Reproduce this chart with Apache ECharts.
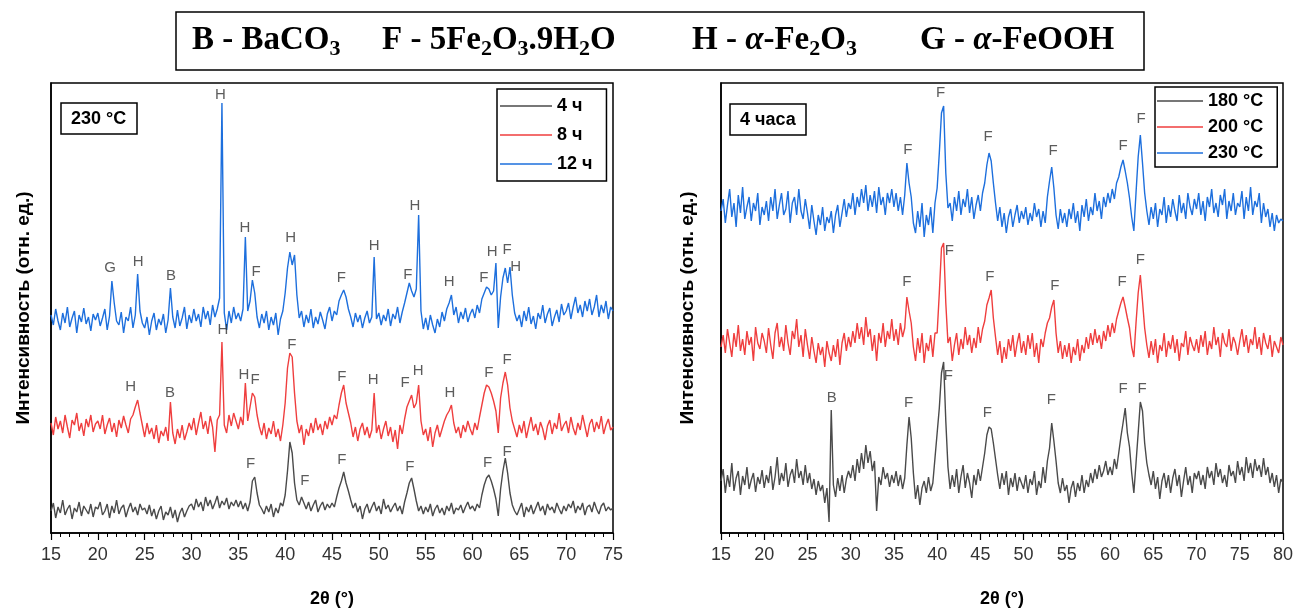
<!DOCTYPE html>
<html>
<head>
<meta charset="utf-8">
<script src="https://cdn.jsdelivr.net/npm/echarts@6/dist/echarts.min.js"></script>
<style>
  html, body { margin: 0; background: #fff; }
  #chart { width: 1293px; height: 609px; }
</style>
</head>
<body>
<div id="chart"></div>
<script>
// рентгенограммы, шаг 0.25° по 2θ, интенсивность в отн. ед. (со сдвигом кривых)
const X0 = 15;
const STEP = 0.25;

// левая панель: 230 °C, 4 / 8 / 12 ч (15..75°)
const left4h = [
  22,30,15,26,20,33,18,24,28,14,25,21,31,17,27,23,19,29,16,26,
  24,31,18,22,29,15,27,20,33,19,25,28,16,24,30,21,26,18,29,23,
  25,19,28,17,24,14,22,27,13,21,18,26,15,23,11,20,25,16,22,27,
  29,23,34,26,31,22,36,27,33,24,30,37,25,32,28,35,24,31,27,33,
  26,32,24,30,22,31,52,56,40,28,24,19,27,21,29,16,25,20,30,27,
  38,62,91,80,50,33,28,36,30,24,31,22,28,33,21,27,31,23,29,25,
  30,26,36,45,52,61,50,42,33,25,30,21,27,14,24,29,20,26,31,22,
  27,19,34,24,28,21,26,30,22,27,19,31,40,50,55,44,32,22,27,19,
  26,21,29,17,24,28,20,25,18,27,22,30,19,25,23,28,20,26,31,24,
  27,22,29,25,38,48,55,58,52,44,34,17,44,62,75,60,40,28,22,18,
  24,30,16,26,21,28,19,25,31,22,27,18,29,23,26,20,30,24,19,27,
  22,29,25,32,20,27,23,30,18,26,28,21,31,24,19,27,30,22,26,23,
  25
];
const left8h = [
  110,98,116,104,112,100,118,106,95,113,108,120,102,110,97,114,106,118,101,109,
  112,104,118,99,108,115,101,110,96,113,105,117,108,100,114,118,126,133,120,108,
  96,110,99,105,94,108,90,102,97,106,92,131,100,89,104,95,108,93,101,110,
  103,115,98,110,121,104,112,99,117,106,81,113,118,191,108,100,118,107,120,112,
  104,116,108,150,112,126,140,136,118,106,98,110,94,105,99,112,96,104,92,108,
  130,165,180,176,140,112,100,108,88,104,97,110,100,115,103,109,98,112,104,116,
  108,118,114,128,140,148,130,120,110,96,106,92,104,110,98,106,95,103,140,100,
  108,94,104,112,97,106,91,103,84,108,99,114,126,132,138,125,130,148,112,98,
  104,92,106,86,100,108,96,104,112,118,122,128,110,100,106,95,108,101,112,104,
  98,110,103,116,128,140,148,146,140,132,122,100,135,150,161,148,125,112,104,96,
  108,100,112,95,106,116,102,109,98,111,104,93,107,113,99,110,104,120,102,108,
  112,100,116,105,98,110,103,118,107,96,109,114,101,111,104,117,99,108,114,103,
  106
];
const left12h = [
  218,208,224,212,203,220,210,226,206,215,222,200,218,211,225,209,216,202,219,213,
  220,207,215,224,203,217,252,230,212,208,221,200,216,212,226,205,218,259,222,210,
  205,216,198,212,220,203,214,208,219,200,213,245,216,205,223,207,215,226,204,218,
  210,224,212,219,206,226,214,222,208,228,216,224,235,430,220,203,222,210,226,214,
  220,212,224,296,222,232,253,240,216,205,219,210,222,203,216,208,220,198,214,222,
  240,265,281,268,278,238,215,222,206,218,210,224,205,216,209,221,213,204,219,226,
  212,222,218,232,238,243,236,224,216,206,220,211,218,205,215,222,210,216,276,214,
  220,208,218,212,224,207,219,214,226,210,221,230,240,250,242,236,244,318,222,204,
  215,203,218,208,200,214,206,221,212,224,230,238,218,226,210,221,214,225,211,219,
  224,215,228,220,234,240,246,244,238,242,270,205,236,255,265,250,266,238,220,212,
  218,206,222,212,226,209,217,204,220,214,228,210,219,225,207,216,223,211,229,218,
  222,230,214,226,236,220,228,216,232,222,234,218,226,238,216,228,220,232,214,226,
  222
];

// правая панель: 4 часа, 180 / 200 / 230 °C (15..80°)
const right180 = [
  52,64,40,58,46,70,42,55,62,38,57,48,66,44,53,60,41,56,49,63,
  45,58,50,67,43,56,76,48,60,52,70,46,58,64,50,74,55,62,48,68,
  50,60,44,54,38,52,42,48,30,45,11,123,48,36,55,42,58,40,54,62,
  55,68,52,74,60,80,64,88,70,82,62,72,22,56,48,66,54,60,46,58,
  50,62,47,58,44,55,88,116,95,60,34,48,28,45,52,40,56,42,50,75,
  100,125,160,171,112,66,44,58,46,64,40,56,68,45,60,50,35,58,48,64,
  52,66,80,98,106,104,90,74,58,44,60,48,62,38,55,46,60,42,56,50,
  44,58,40,54,48,62,38,52,45,66,50,72,85,110,92,72,50,40,55,42,
  48,30,45,52,36,50,42,58,40,53,46,60,50,64,54,68,56,62,72,58,
  66,58,74,64,80,96,110,125,100,86,60,40,70,100,131,122,90,70,58,48,
  62,44,56,34,52,60,45,58,40,55,64,47,58,36,52,66,48,57,40,60,
  54,62,48,58,44,66,55,62,48,70,56,64,50,58,46,68,57,62,50,72,
  58,66,52,76,60,70,55,74,62,68,56,75,58,66,50,60,46,58,40,54,
  50
];
const right200 = [
  186,198,180,204,190,176,200,186,208,182,194,178,202,188,196,172,206,190,184,200,
  192,180,205,188,174,200,210,186,196,182,208,190,178,202,194,214,186,198,176,204,
  188,174,196,182,170,190,178,186,166,192,180,172,188,176,194,168,190,200,182,196,
  186,202,190,210,194,206,188,216,196,204,182,198,172,200,190,210,186,202,194,214,
  192,204,188,210,196,205,236,222,210,186,172,195,180,200,170,190,182,198,176,200,
  200,240,285,290,230,190,196,172,188,200,178,194,184,206,188,198,180,195,185,206,
  190,204,212,228,235,243,215,196,178,192,170,186,174,194,182,198,176,190,200,180,
  192,178,198,184,200,176,190,170,194,186,200,210,215,226,233,200,180,192,174,188,
  176,190,170,186,178,194,172,188,180,196,184,200,188,204,190,198,184,202,192,208,
  196,210,200,214,222,230,236,226,215,205,186,176,210,240,258,232,205,188,175,192,
  178,194,170,188,182,200,176,192,184,198,180,194,172,190,186,202,178,196,188,182,
  194,180,198,186,202,178,192,184,206,188,196,176,200,190,186,204,182,196,190,178,
  192,204,186,198,180,194,188,206,184,196,178,200,190,184,198,176,192,186,180,196,
  188
];
const right230 = [
  322,334,310,328,344,316,330,306,338,320,346,314,326,336,312,330,322,340,308,326,
  318,332,312,336,322,344,314,328,340,318,324,342,310,330,336,318,344,322,314,334,
  320,304,328,312,298,318,308,326,302,316,310,322,300,318,328,306,320,334,316,330,
  324,340,318,336,326,344,330,348,322,338,326,342,320,346,328,336,318,340,330,344,
  326,340,322,336,318,338,370,350,336,310,300,322,306,330,296,318,308,326,300,330,
  345,380,420,427,360,325,330,312,336,322,342,318,334,326,344,320,336,314,328,338,
  322,340,350,368,380,372,350,330,312,326,306,320,300,316,324,306,318,328,310,322,
  314,326,308,320,312,330,316,324,306,322,310,336,352,366,345,318,304,324,310,320,
  306,324,314,330,310,322,302,328,316,334,312,326,318,340,322,332,314,336,326,340,
  330,344,334,350,356,366,373,362,350,335,316,302,340,376,398,370,340,322,308,326,
  314,330,306,324,318,336,310,328,316,334,322,312,338,320,330,314,340,326,318,334,
  324,340,318,332,312,336,326,344,320,330,316,338,328,344,314,332,322,340,318,330,
  326,342,314,336,322,346,318,332,326,340,310,330,316,324,306,320,302,318,310,314,
  312
];

// подписи пиков: [2θ, высота, фаза]
const leftMarks = [
  [21.3,265,'G'],[24.3,271,'H'],[27.8,257,'B'],[33.1,438,'H'],[35.7,305,'H'],[36.9,261,'F'],
  [40.6,295,'H'],[46.0,255,'F'],[49.5,287,'H'],[53.1,258,'F'],[53.85,327,'H'],[57.5,251,'H'],
  [61.2,255,'F'],[62.1,281,'H'],[63.7,283,'F'],[64.6,266,'H'],
  [33.35,203,'H'],[23.5,146,'H'],[27.7,140,'B'],[35.6,158,'H'],[36.8,153,'F'],[40.7,188,'F'],
  [46.05,156,'F'],[49.4,153,'H'],[52.8,150,'F'],[54.2,162,'H'],[57.6,140,'H'],[61.75,160,'F'],
  [63.7,173,'F'],
  [36.3,69,'F'],[42.1,52,'F'],[46.05,73,'F'],[53.3,66,'F'],[61.6,70,'F'],[63.7,81,'F']
];
const rightMarks = [
  [36.6,383,'F'],[40.4,440,'F'],[45.9,396,'F'],[53.4,382,'F'],[61.5,387,'F'],[63.6,414,'F'],
  [36.5,251,'F'],[41.4,282,'F'],[46.1,256,'F'],[53.6,247,'F'],[61.4,251,'F'],[63.5,273,'F'],
  [27.8,135,'B'],[36.7,130,'F'],[41.3,157,'F'],[45.8,120,'F'],[53.2,133,'F'],[61.5,144,'F'],
  [63.7,144,'F']
];

const leftNames = ['4 ч', '8 ч', '12 ч'];
const rightNames = ['180 °C', '200 °C', '230 °C'];
const colors = ['#4a4a4a', '#ef3e3e', '#1d6fdd'];

const FONT = '"Liberation Sans", Arial, sans-serif';
const SERIF = '"Liberation Serif", "Times New Roman", serif';

function toPairs(vals) {
  return vals.map((v, i) => [X0 + i * STEP, v]);
}

function xAxis(gridIndex, max) {
  return {
    type: 'value', gridIndex, min: 15, max, interval: 5,
    axisLine: { lineStyle: { color: '#000', width: 1.5 } },
    axisTick: { inside: false, length: 7, lineStyle: { color: '#000', width: 1.2 } },
    minorTick: { show: true, splitNumber: 5, length: 4, lineStyle: { color: '#000', width: 1 } },
    splitLine: { show: false },
    axisLabel: { fontSize: 18, color: '#333', margin: 13, fontFamily: FONT },
    name: '2θ (°)', nameLocation: 'middle', nameGap: 57,
    nameTextStyle: { fontSize: 18, fontWeight: 'bold', color: '#000', fontFamily: FONT }
  };
}

function yAxis(gridIndex, gap) {
  return {
    type: 'value', gridIndex, min: 0, max: 450,
    axisLine: { show: true, lineStyle: { color: '#000', width: 1.5 } },
    axisTick: { show: false }, axisLabel: { show: false }, splitLine: { show: false },
    name: 'Интенсивность (отн. ед.)', nameLocation: 'middle', nameGap: gap,
    nameTextStyle: { fontSize: 19, fontWeight: 'bold', color: '#000', fontFamily: FONT }
  };
}

function lineSeries(name, vals, color, idx) {
  return {
    name, type: 'line', xAxisIndex: idx, yAxisIndex: idx,
    data: toPairs(vals), symbol: 'none', showSymbol: false, sampling: 'none',
    lineStyle: { color, width: 1.4 }, itemStyle: { color }, silent: true
  };
}

function markSeries(marks, idx) {
  return {
    type: 'scatter', xAxisIndex: idx, yAxisIndex: idx, silent: true, z: 5,
    symbolSize: 1, itemStyle: { color: 'transparent' },
    data: marks.map(m => ({ value: [m[0], m[1]], name: m[2] })),
    label: { show: true, position: 'inside', formatter: '{b}', fontSize: 15, color: '#333', fontFamily: FONT }
  };
}

function legend(names, left, top, itemWidth, itemGap, padding) {
  return {
    data: names, orient: 'vertical', left, top, itemWidth, itemHeight: 1.5, itemGap, padding,
    icon: 'rect', selectedMode: false, borderColor: '#000', borderWidth: 1.5, backgroundColor: '#fff',
    textStyle: { fontSize: 18, fontWeight: 'bold', color: '#000', fontFamily: FONT }
  };
}

function boxTitle(text, left, top) {
  return {
    text, left, top, padding: [7, 11, 6, 10], borderColor: '#000', borderWidth: 1.5,
    textStyle: { fontSize: 18, fontWeight: 'bold', color: '#000', fontFamily: FONT }
  };
}

const rich = {
  m: { fontFamily: SERIF, fontSize: 33, fontWeight: 'bold', color: '#000', lineHeight: 40 },
  a: { fontFamily: SERIF, fontSize: 33, fontWeight: 'bold', fontStyle: 'italic', color: '#000', lineHeight: 40 },
  s: { fontFamily: SERIF, fontSize: 22, fontWeight: 'bold', color: '#000', lineHeight: 14, verticalAlign: 'bottom' }
};

function headerText(x, text) {
  return { type: 'text', x, y: 40, style: { text, rich, verticalAlign: 'middle', align: 'left' } };
}

const gridBase = { top: 83, width: 562, height: 450, show: true, borderColor: '#000', borderWidth: 1.5,
  containLabel: false, outerBoundsMode: 'none' };

const chart = echarts.init(document.getElementById('chart'));
chart.setOption({
  animation: false,
  backgroundColor: '#fff',
  textStyle: { fontFamily: FONT },
  title: [boxTitle('230 °C', 61, 103), boxTitle('4 часа', 730, 104)],
  legend: [
    legend(leftNames, 497, 89, 52, 11, [8, 14, 8, 3]),
    legend(rightNames, 1155, 87, 46, 8, [5, 14, 5, 2])
  ],
  grid: [
    Object.assign({ left: 51 }, gridBase),
    Object.assign({ left: 721 }, gridBase)
  ],
  xAxis: [xAxis(0, 75), xAxis(1, 80)],
  yAxis: [yAxis(0, 18), yAxis(1, 24)],
  graphic: [
    { type: 'rect', shape: { x: 176, y: 12, width: 968, height: 58 },
      style: { fill: '#fff', stroke: '#000', lineWidth: 1.5 } },
    headerText(192, '{m|B - BaCO}{s|3}'),
    headerText(382, '{m|F - 5Fe}{s|2}{m|O}{s|3}{m|.9H}{s|2}{m|O}'),
    headerText(692, '{m|H - }{a|α}{m|-Fe}{s|2}{m|O}{s|3}'),
    headerText(920, '{m|G - }{a|α}{m|-FeOOH}')
  ],
  series: [
    lineSeries(leftNames[0], left4h, colors[0], 0),
    lineSeries(leftNames[1], left8h, colors[1], 0),
    lineSeries(leftNames[2], left12h, colors[2], 0),
    lineSeries(rightNames[0], right180, colors[0], 1),
    lineSeries(rightNames[1], right200, colors[1], 1),
    lineSeries(rightNames[2], right230, colors[2], 1),
    markSeries(leftMarks, 0),
    markSeries(rightMarks, 1)
  ]
});
</script>
</body>
</html>
